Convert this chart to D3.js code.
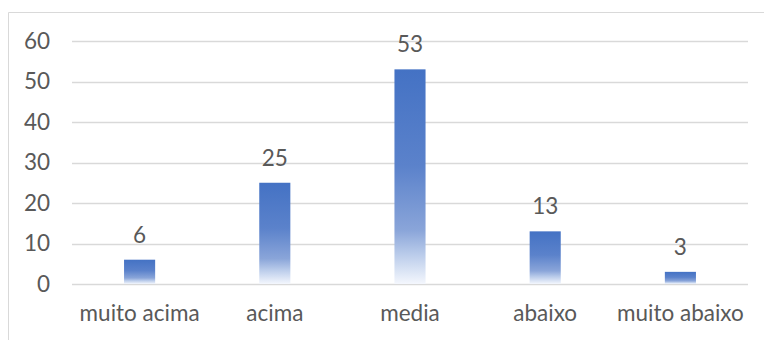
<!DOCTYPE html>
<html>
<head>
<meta charset="utf-8">
<script src="https://cdn.jsdelivr.net/npm/d3@7"></script>
<style>
  html, body { margin: 0; padding: 0; background: #fff; }
  svg { display: block; }
  text { font-family: Lato, "Open Sans", sans-serif; fill: #595959; }
</style>
</head>
<body>
<svg id="chart" width="764" height="340"></svg>
<script>
// Category labels and counts
const categories = ["muito acima", "acima", "media", "abaixo", "muito abaixo"];
const values = [6, 25, 53, 13, 3];
const yTicks = [0, 10, 20, 30, 40, 50, 60];

const W = 764, H = 340;
const margin = { left: 72, right: 16, top: 41, bottom: 56 };
const fontSize = 22.5;

const svg = d3.select("#chart");

// Chart frame (left and top edges visible)
svg.append("line").attr("x1", 8.5).attr("x2", 8.5).attr("y1", 12.5).attr("y2", H)
  .attr("stroke", "#d9d9d9").attr("stroke-width", 1);
svg.append("line").attr("x1", 8.5).attr("x2", W).attr("y1", 12.5).attr("y2", 12.5)
  .attr("stroke", "#d9d9d9").attr("stroke-width", 1);

const x = d3.scaleBand()
  .domain(categories)
  .range([margin.left, W - margin.right])
  .paddingInner(0.77)
  .paddingOuter(0.385);

const y = d3.scaleLinear()
  .domain([0, 60])
  .range([H - margin.bottom, margin.top]);

// Bar gradient: solid blue at the top fading to white at the base
const defs = svg.append("defs");
const grad = defs.append("linearGradient")
  .attr("id", "barFill").attr("x1", 0).attr("y1", 0).attr("x2", 0).attr("y2", 1);
[[0, "#4472c4"], [0.45, "#5b82cb"], [0.75, "#8aa5d9"], [0.86, "#b9cbea"], [1, "#f4f7fd"]]
  .forEach(([o, c]) => grad.append("stop").attr("offset", o).attr("stop-color", c));

// Horizontal gridlines
svg.append("g")
  .selectAll("line")
  .data(yTicks)
  .join("line")
  .attr("x1", margin.left).attr("x2", W - margin.right)
  .attr("y1", d => Math.round(y(d)) + 0.5).attr("y2", d => Math.round(y(d)) + 0.5)
  .attr("stroke", "#d9d9d9").attr("stroke-width", 1.3);

// Y axis labels
const yAxis = d3.axisLeft(y).tickValues(yTicks).tickSize(0).tickPadding(0);
const gy = svg.append("g").attr("transform", "translate(50,0)").call(yAxis);
gy.select(".domain").remove();
gy.selectAll("text").attr("font-size", fontSize).attr("fill", "#595959")
  .style("font-family", "Lato, sans-serif");

// X axis labels
const xAxis = d3.axisBottom(x).tickSize(0).tickPadding(0);
const gx = svg.append("g").attr("transform", `translate(0,${y(0) + 21})`).call(xAxis);
gx.select(".domain").remove();
gx.selectAll("text").attr("font-size", fontSize).attr("fill", "#595959")
  .style("font-family", "Lato, sans-serif");

// Bars
svg.append("g")
  .selectAll("rect")
  .data(values)
  .join("rect")
  .attr("x", (d, i) => x(categories[i]))
  .attr("width", x.bandwidth())
  .attr("y", d => y(d))
  .attr("height", d => y(0) - y(d))
  .attr("fill", "url(#barFill)");

// Value labels above bars
svg.append("g")
  .selectAll("text")
  .data(values)
  .join("text")
  .attr("x", (d, i) => x(categories[i]) + x.bandwidth() / 2)
  .attr("y", d => y(d) - 17)
  .attr("text-anchor", "middle")
  .attr("font-size", fontSize)
  .text(d => d);
</script>
</body>
</html>
